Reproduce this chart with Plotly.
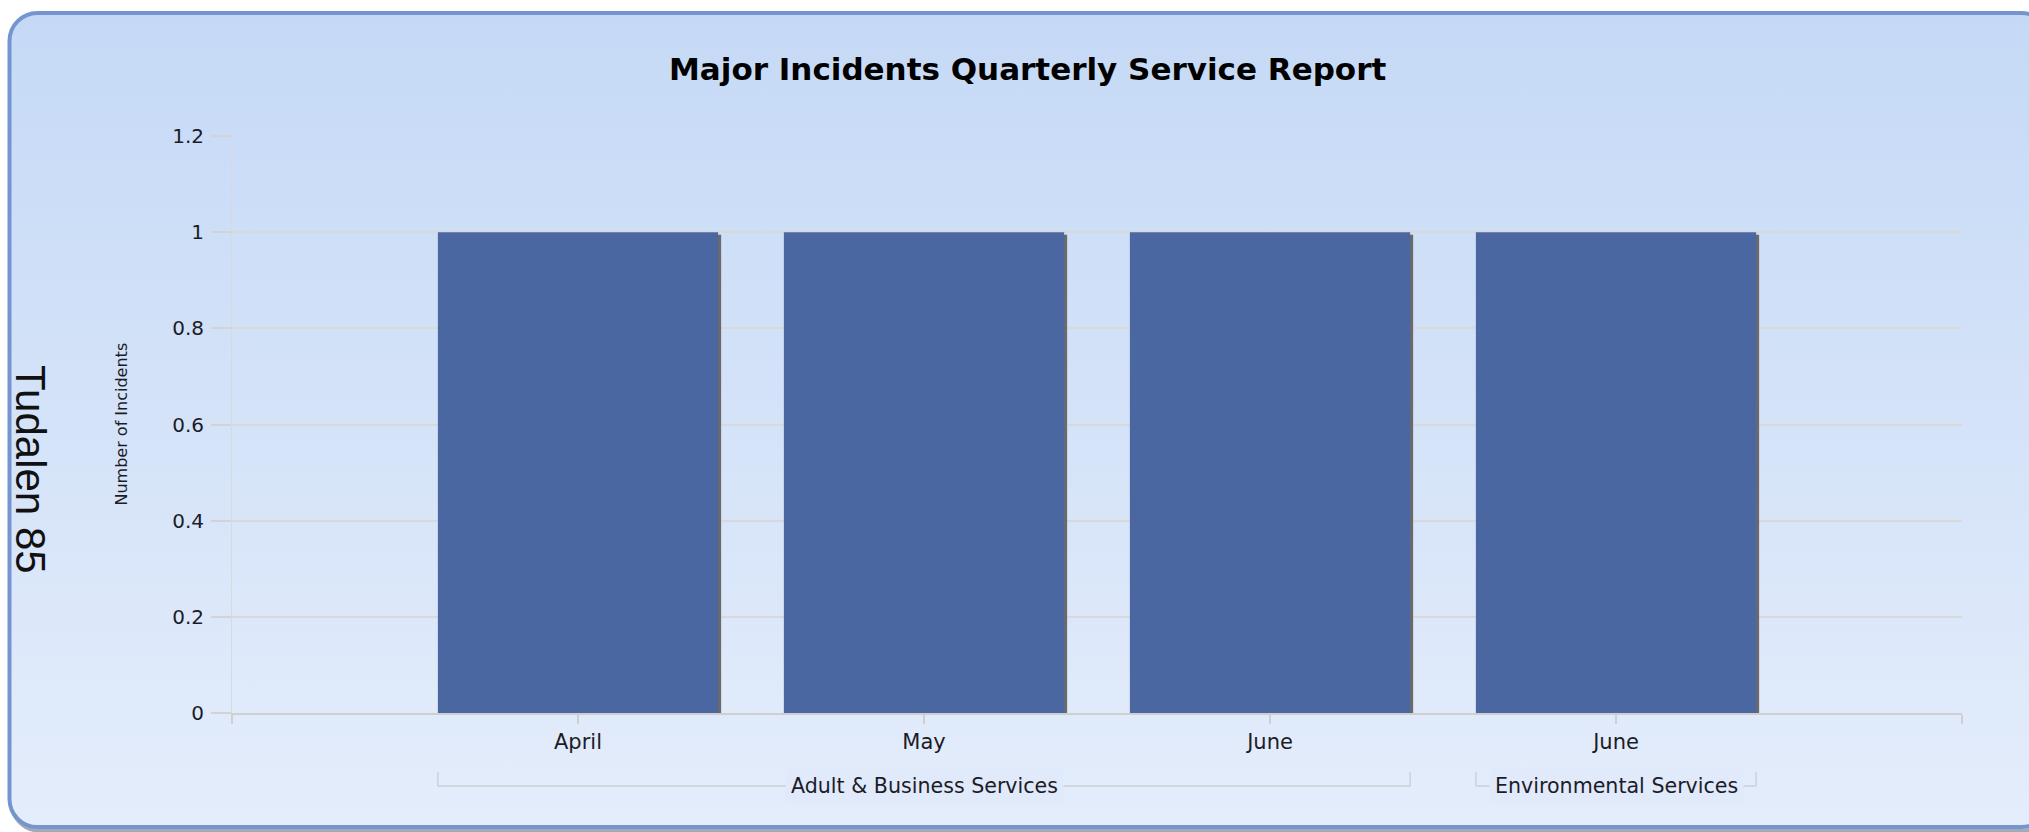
import base64
import plotly.graph_objects as go

# ---- chart data -------------------------------------------------------------
months = ["April", "May", "June", "June"]
services = [
    "Adult & Business Services",
    "Adult & Business Services",
    "Adult & Business Services",
    "Environmental Services",
]
incidents = [1, 1, 1, 1]
y_tick_values = [0, 0.2, 0.4, 0.6, 0.8, 1, 1.2]

# ---- canvas / geometry ------------------------------------------------------
W, H = 2029, 832
PLOT_L, PLOT_R, PLOT_T, PLOT_B = 232, 1962, 136, 713
BAR_W = 0.81
FONT = "DejaVu Sans"
TEXT = "#1c1c28"
GRID = "#d9d9d9"

positions = list(range(len(months)))
x_range = [-1, len(months)]

# rounded frame with a vertical gradient, drawn as an SVG backdrop
svg = f"""<svg xmlns="http://www.w3.org/2000/svg" width="{W}" height="{H}" viewBox="0 0 {W} {H}">
<defs><linearGradient id="g" x1="0" y1="0" x2="0" y2="1">
<stop offset="0" stop-color="#c5d9f6"/><stop offset="1" stop-color="#e4edfb"/>
</linearGradient></defs>
<rect x="11.5" y="15.5" width="2040" height="815" rx="28" ry="28" fill="none" stroke="#a3a9b5" stroke-width="4"/>
<rect x="9.5" y="13" width="2040" height="814" rx="28" ry="28" fill="url(#g)" stroke="#7495cf" stroke-width="4"/>
</svg>"""
svg_uri = "data:image/svg+xml;base64," + base64.b64encode(svg.encode()).decode()

# pixel offsets of the drop shadow expressed in axis units
px_per_x = (PLOT_R - PLOT_L) / (x_range[1] - x_range[0])
px_per_y = (PLOT_B - PLOT_T) / y_tick_values[-1]
shadow_dx = 3 / px_per_x
shadow_dy = 2.5 / px_per_y

fig = go.Figure()

# drop shadow behind each bar
fig.add_trace(go.Bar(
    x=positions,
    y=incidents,
    base=[-shadow_dy] * len(incidents),
    width=BAR_W,
    offset=-BAR_W / 2 + shadow_dx,
    marker=dict(color="#6a6a6e", line=dict(width=0)),
    hoverinfo="skip",
    showlegend=False,
))
# the bars themselves
fig.add_trace(go.Bar(
    x=positions,
    y=incidents,
    width=BAR_W,
    marker=dict(color="#4a67a1", line=dict(width=0)),
    customdata=[[m, s] for m, s in zip(months, services)],
    hovertemplate="%{customdata[1]}<br>%{customdata[0]}: %{y}<extra></extra>",
    showlegend=False,
))

# group brackets underneath the month labels
shapes = []
annotations = []
BRACKET_Y = 1 - 786 / H
BRACKET_TOP = 1 - 772 / H
groups = []
for i, s in enumerate(services):
    if groups and groups[-1][0] == s:
        groups[-1][2] = i
    else:
        groups.append([s, i, i])
for name, first, last in groups:
    x0 = positions[first] - BAR_W / 2
    x1 = positions[last] + BAR_W / 2
    line = dict(color="#cdd0d6", width=1.5)
    shapes.append(dict(type="line", xref="x", yref="paper", x0=x0, x1=x1,
                       y0=BRACKET_Y, y1=BRACKET_Y, line=line, layer="below"))
    for xe in (x0, x1):
        shapes.append(dict(type="line", xref="x", yref="paper", x0=xe, x1=xe,
                           y0=BRACKET_Y, y1=BRACKET_TOP, line=line, layer="below"))
    annotations.append(dict(
        text=name, xref="x", yref="paper",
        x=(positions[first] + positions[last]) / 2, y=BRACKET_Y,
        xanchor="center", yanchor="middle", showarrow=False,
        bgcolor="#e1eafa", borderpad=5,
        font=dict(family=FONT, size=20.6, color=TEXT),
    ))

# chart title
annotations.append(dict(
    text="<b>Major Incidents Quarterly Service Report</b>",
    xref="paper", yref="paper", x=1027 / W, y=1 - 69 / H,
    xanchor="center", yanchor="middle", showarrow=False,
    font=dict(family=FONT, size=31, color="#000000"),
))
# value axis title
annotations.append(dict(
    text="Number of Incidents", xref="paper", yref="paper",
    x=121 / W, y=1 - 424.5 / H, textangle=-90,
    xanchor="center", yanchor="middle", showarrow=False,
    font=dict(family=FONT, size=16, color=TEXT),
))
# page marker on the left edge
annotations.append(dict(
    text="Tudalen 85", xref="paper", yref="paper",
    x=31 / W, y=1 - 469 / H, textangle=90,
    xanchor="center", yanchor="middle", showarrow=False,
    font=dict(family="Liberation Sans", size=42, color="#111111"),
))

tick_positions = [x_range[0]] + positions + [x_range[1]]
tick_text = [""] + months + [""]

fig.update_layout(
    template="none",
    width=W,
    height=H,
    margin=dict(l=0, r=0, t=0, b=0),
    paper_bgcolor="#ffffff",
    plot_bgcolor="#e5ecf9",
    barmode="overlay",
    font=dict(family=FONT, color=TEXT),
    showlegend=False,
    xaxis=dict(
        domain=[PLOT_L / W, PLOT_R / W],
        range=x_range,
        tickmode="array",
        tickvals=tick_positions,
        ticktext=tick_text,
        ticks="outside",
        ticklen=9,
        tickwidth=1.5,
        tickcolor="#cfcfcf",
        tickfont=dict(family=FONT, size=21, color=TEXT),
        showline=True,
        linecolor="#cfcfcf",
        linewidth=2,
        showgrid=False,
        zeroline=False,
        automargin=False,
        fixedrange=True,
    ),
    yaxis=dict(
        domain=[1 - PLOT_B / H, 1 - PLOT_T / H],
        range=[y_tick_values[0], y_tick_values[-1]],
        tickmode="array",
        tickvals=y_tick_values,
        ticktext=[f"{v:g}" for v in y_tick_values],
        ticks="outside",
        ticklen=20,
        tickwidth=1.5,
        tickcolor="#d3d3d3",
        tickfont=dict(family=FONT, size=20, color=TEXT),
        ticklabelstandoff=3,
        showgrid=True,
        gridcolor=GRID,
        gridwidth=1.5,
        showline=True,
        linecolor="#d6d9de",
        linewidth=1,
        zeroline=False,
        automargin=False,
        fixedrange=True,
    ),
    shapes=shapes,
    annotations=annotations,
    images=[dict(
        source=svg_uri, xref="paper", yref="paper",
        x=0, y=1, sizex=1, sizey=1,
        xanchor="left", yanchor="top", sizing="stretch", layer="below",
    )],
)

fig.write_html("out.html")
